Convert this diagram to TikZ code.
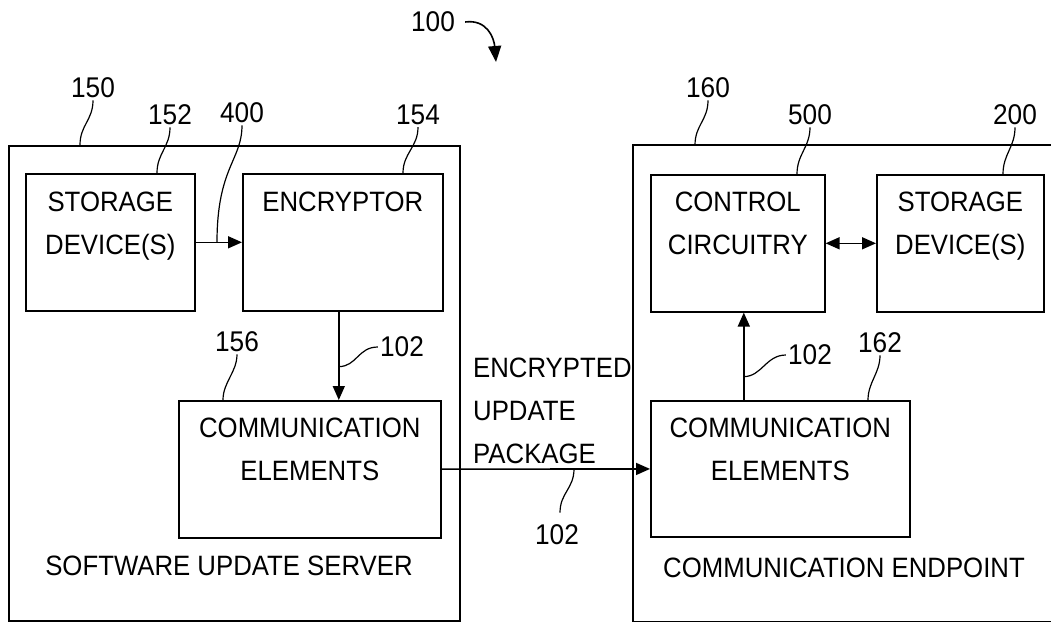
\documentclass[tikz,border=0pt]{standalone}
\usepackage{fontspec}
\setmainfont{Liberation Sans}[FakeStretch=0.92]
\usetikzlibrary{positioning,arrows.meta}

\tikzset{
  blk/.style={draw, line width=1.6pt, inner sep=0pt, anchor=north west},
  txt/.style={font=\fontsize{28}{43}\selectfont, align=center, inner sep=0pt, anchor=north},
  num/.style={font=\fontsize{28.5}{34}\selectfont, inner sep=2pt},
  lead/.style={line width=1.2pt},
  arr/.style={line width=1.6pt, -{Triangle[length=14pt,width=12pt]}},
}

\begin{document}
\begin{tikzpicture}[x=1pt,y=-1pt]
  % size of the sheet
  \useasboundingbox (0,0) rectangle (1051,623);

  % outer boxes
  \node[blk, minimum width=451pt, minimum height=475pt] (srv) at (8,145) {};
  \node[blk, draw=none, minimum width=418pt, minimum height=475pt] (ep) at (633,145) {};
  \draw[line width=1.6pt] (ep.north east) -- (ep.north west) -- (ep.south west) -- (ep.south east);

  % inner boxes
  \node[blk, minimum width=169pt, minimum height=137pt] (stor) at (25,173) {};
  \node[blk, minimum width=200pt, minimum height=137pt] (enc) at (242,173) {};
  \node[blk, minimum width=262pt, minimum height=137pt] (comA) at (178,400) {};
  \node[blk, minimum width=174pt, minimum height=137pt] (ctrl) at (650,174) {};
  \node[blk, minimum width=167pt, minimum height=137pt] (storB) at (876,174) {};
  \node[blk, minimum width=259pt, minimum height=136pt] (comB) at (650,400) {};

  % box texts
  \node[txt, below=19pt of stor.north] (tStor) {STORAGE\\DEVICE(S)};
  \node[txt, below=19pt of enc.north] (tEnc) {ENCRYPTOR};
  \node[txt, below=18pt of comA.north] (tComA) {COMMUNICATION\\ELEMENTS};
  \node[txt, below=18pt of ctrl.north] (tCtrl) {CONTROL\\CIRCUITRY};
  \node[txt, below=18pt of storB.north] (tStorB) {STORAGE\\DEVICE(S)};
  \node[txt, below=18pt of comB.north] (tComB) {COMMUNICATION\\ELEMENTS};

  % captions
  \node[txt, anchor=center] (tSrv) at (229,566) {SOFTWARE UPDATE SERVER};
  \node[txt, anchor=center] (tEp) at (844,568) {COMMUNICATION ENDPOINT};
  \node[txt, align=left, anchor=north west] (tPkg) at (473,358) {ENCRYPTED\\UPDATE\\PACKAGE};

  % reference numerals
  \node[num] (n100) at (433,22) {100};
  \node[num] (n150) at (93,88) {150};
  \node[num] (n152) at (170,115) {152};
  \node[num] (n400) at (242,113) {400};
  \node[num] (n154) at (418,115) {154};
  \node[num] (n156) at (237,342) {156};
  \node[num] (n102a) at (402,347) {102};
  \node[num] (n160) at (708,88) {160};
  \node[num] (n500) at (810,115) {500};
  \node[num] (n200) at (1015,115) {200};
  \node[num] (n162) at (880,343) {162};
  \node[num] (n102b) at (810,355) {102};
  \node[num] (n102c) at (557,535) {102};

  % connectors
  \draw[arr] (stor) -- (enc);
  \draw[arr] ([xshift=-4pt]enc.south) -- ([xshift=-4pt]enc.south |- comA.north);
  \draw[arr] (comA) -- (comB);
  \draw[arr] ([xshift=6pt]ctrl.south |- comB.north) -- ([xshift=6pt]ctrl.south);
  \draw[arr, {Triangle[length=14pt,width=12pt]}-{Triangle[length=14pt,width=12pt]}] (ctrl) -- (storB);

  % arrow of 100
  \coordinate (p100) at (496,62);
  \draw[line width=1.6pt, -{Triangle[length=16pt,width=13pt]}] ([xshift=8pt]n100.east) .. controls +(22,-3) and +(-2,-24) .. (p100);

  % leader lines
  \draw[lead] (n150.south) .. controls +(0,20) and +(0,-20) .. ([xshift=-13pt]n150.south |- srv.north);
  \draw[lead] (n152.south) .. controls +(0,20) and +(0,-20) .. ([xshift=-13pt]n152.south |- stor.north);
  \draw[lead] (n400.south) .. controls +(0,35) and +(0,-75) .. ([xshift=-25pt]n400.south |- stor.east);
  \draw[lead] (n154.south) .. controls +(0,20) and +(0,-20) .. ([xshift=-15pt]n154.south |- enc.north);
  \draw[lead] (n156.south) .. controls +(0,18) and +(0,-18) .. ([xshift=-14pt]n156.south |- comA.north);
  \draw[lead] (n102a.west) .. controls +(-20,0) and +(18,0) .. ([xshift=-4pt,yshift=-55pt]enc.south);
  \draw[lead] (n160.south) .. controls +(0,20) and +(0,-20) .. ([xshift=-13pt]n160.south |- ep.north);
  \draw[lead] (n500.south) .. controls +(0,20) and +(0,-20) .. ([xshift=-13pt]n500.south |- ctrl.north);
  \draw[lead] (n200.south) .. controls +(0,20) and +(0,-20) .. ([xshift=-12pt]n200.south |- storB.north);
  \draw[lead] (n162.south) .. controls +(0,18) and +(0,-18) .. ([xshift=-12pt]n162.south |- comB.north);
  \draw[lead] (n102b.west) .. controls +(-20,0) and +(18,0) .. ([xshift=6pt,yshift=-64pt]ctrl.south);
  \draw[lead] ([xshift=3pt,yshift=10pt]n102c.north) .. controls +(0,-20) and +(0,20) .. ([xshift=17pt]n102c.north |- comB.west);
\end{tikzpicture}
\end{document}
